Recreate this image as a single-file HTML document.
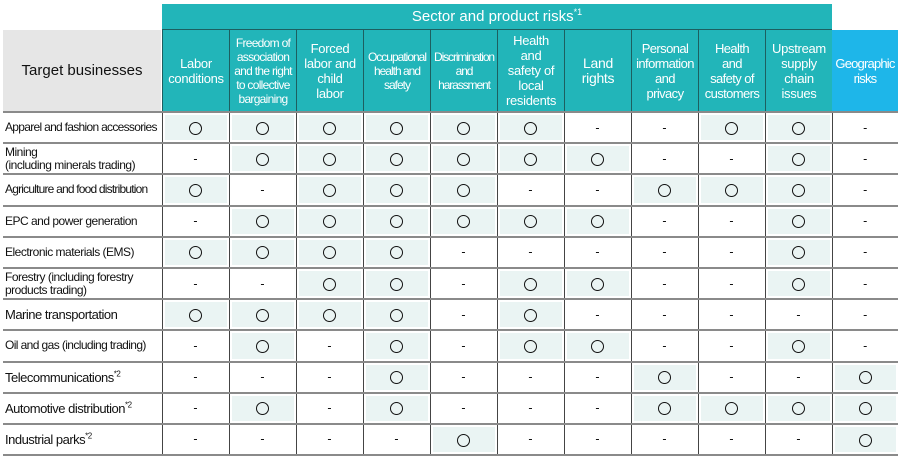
<!DOCTYPE html>
<html><head><meta charset="utf-8"><style>
body{margin:0;width:900px;height:459px;background:#fff;font-family:"Liberation Sans",Arial,sans-serif;position:relative;overflow:hidden}
.a{position:absolute;box-sizing:border-box}
.top{left:162px;top:4px;width:670px;height:26px;background:#22b5b9;color:#fff;font-size:15px;text-align:center;line-height:26px;border-bottom:1.5px solid #1d5f60}
.top sup{font-size:9px;line-height:0}
.tb{left:3px;top:30px;width:158px;height:81px;background:#e6e6e6;font-size:15px;display:flex;align-items:center;justify-content:center;color:#111}
.h{top:30px;height:81px;width:67px;background:#22b5b9;color:#fff;display:flex;align-items:center;justify-content:center;text-align:center;border-left:1.5px solid #1d5f60;font-size:13px;line-height:15px;letter-spacing:-0.3px}
.geo{background:#1eb6e9;border-left:none;letter-spacing:-0.8px}
.sm{font-size:12px;line-height:14px;letter-spacing:-0.7px}
table{position:absolute;left:3px;top:111px;border-collapse:collapse;table-layout:fixed}
td{height:29.2px;border-top:2px solid #8a8a8a;border-left:1px solid #444;text-align:center;padding:0;font-size:12.5px;color:#111}
tr:last-child td{border-bottom:2px solid #8a8a8a}
td.n{text-align:left;border-left:none;padding-left:2px;font-size:12px;line-height:13px;letter-spacing:-0.5px;white-space:nowrap;overflow:visible}
td.n sup{font-size:8px;line-height:0}
td.o{background:#eaf4f3;box-shadow:inset 0 0 0 2px #fff}
td.o::after{content:"";display:inline-block;width:11px;height:11px;border:1.5px solid #111;border-radius:50%;vertical-align:middle}
td.d::after{content:"-"}
</style></head><body>
<div class="a top">Sector and product risks<sup>*1</sup></div>
<div class="a tb">Target businesses</div>
<div class="a h" style="left:162px">Labor<br>conditions</div>
<div class="a h sm" style="left:229px">Freedom of association and the right to collective bargaining</div>
<div class="a h" style="left:296px">Forced<br>labor and<br>child<br>labor</div>
<div class="a h sm" style="left:363px;letter-spacing:-1px">Occupational<br>health and<br>safety</div>
<div class="a h sm" style="left:430px;letter-spacing:-1.1px">Discrimination<br>and<br>harassment</div>
<div class="a h" style="left:497px">Health<br>and<br>safety of<br>local<br>residents</div>
<div class="a h" style="left:564px;font-size:14px">Land<br>rights</div>
<div class="a h" style="left:631px;letter-spacing:-0.6px">Personal<br>information<br>and<br>privacy</div>
<div class="a h" style="left:698px;letter-spacing:-0.6px">Health<br>and<br>safety of<br>customers</div>
<div class="a h" style="left:765px">Upstream<br>supply<br>chain<br>issues</div>
<div class="a h geo" style="left:832px;width:66px">Geographic<br>risks</div>
<table>
<colgroup><col style="width:159px"><col style="width:67px"><col style="width:67px"><col style="width:67px"><col style="width:67px"><col style="width:67px"><col style="width:67px"><col style="width:67px"><col style="width:67px"><col style="width:67px"><col style="width:67px"><col style="width:66px"></colgroup>
<tr><td class="n" style="letter-spacing:-0.7px">Apparel and fashion accessories</td><td class="o"></td><td class="o"></td><td class="o"></td><td class="o"></td><td class="o"></td><td class="o"></td><td class="d"></td><td class="d"></td><td class="o"></td><td class="o"></td><td class="d"></td></tr>
<tr><td class="n">Mining<br>(including minerals trading)</td><td class="d"></td><td class="o"></td><td class="o"></td><td class="o"></td><td class="o"></td><td class="o"></td><td class="o"></td><td class="d"></td><td class="d"></td><td class="o"></td><td class="d"></td></tr>
<tr><td class="n" style="letter-spacing:-0.8px">Agriculture and food distribution</td><td class="o"></td><td class="d"></td><td class="o"></td><td class="o"></td><td class="o"></td><td class="d"></td><td class="d"></td><td class="o"></td><td class="o"></td><td class="o"></td><td class="d"></td></tr>
<tr><td class="n">EPC and power generation</td><td class="d"></td><td class="o"></td><td class="o"></td><td class="o"></td><td class="o"></td><td class="o"></td><td class="o"></td><td class="d"></td><td class="d"></td><td class="o"></td><td class="d"></td></tr>
<tr><td class="n">Electronic materials (EMS)</td><td class="o"></td><td class="o"></td><td class="o"></td><td class="o"></td><td class="d"></td><td class="d"></td><td class="d"></td><td class="d"></td><td class="d"></td><td class="o"></td><td class="d"></td></tr>
<tr><td class="n">Forestry (including forestry<br>products trading)</td><td class="d"></td><td class="d"></td><td class="o"></td><td class="o"></td><td class="d"></td><td class="o"></td><td class="o"></td><td class="d"></td><td class="d"></td><td class="o"></td><td class="d"></td></tr>
<tr><td class="n" style="font-size:13px">Marine transportation</td><td class="o"></td><td class="o"></td><td class="o"></td><td class="o"></td><td class="d"></td><td class="o"></td><td class="d"></td><td class="d"></td><td class="d"></td><td class="d"></td><td class="d"></td></tr>
<tr><td class="n" style="letter-spacing:-0.6px">Oil and gas (including trading)</td><td class="d"></td><td class="o"></td><td class="d"></td><td class="o"></td><td class="d"></td><td class="o"></td><td class="o"></td><td class="d"></td><td class="d"></td><td class="o"></td><td class="d"></td></tr>
<tr><td class="n" style="font-size:13px">Telecommunications<sup>*2</sup></td><td class="d"></td><td class="d"></td><td class="d"></td><td class="o"></td><td class="d"></td><td class="d"></td><td class="d"></td><td class="o"></td><td class="d"></td><td class="d"></td><td class="o"></td></tr>
<tr><td class="n" style="font-size:13px">Automotive distribution<sup>*2</sup></td><td class="d"></td><td class="o"></td><td class="d"></td><td class="o"></td><td class="d"></td><td class="d"></td><td class="d"></td><td class="o"></td><td class="o"></td><td class="o"></td><td class="o"></td></tr>
<tr><td class="n" style="font-size:13px">Industrial parks<sup>*2</sup></td><td class="d"></td><td class="d"></td><td class="d"></td><td class="d"></td><td class="o"></td><td class="d"></td><td class="d"></td><td class="d"></td><td class="d"></td><td class="d"></td><td class="o"></td></tr>
</table>
</body></html>
